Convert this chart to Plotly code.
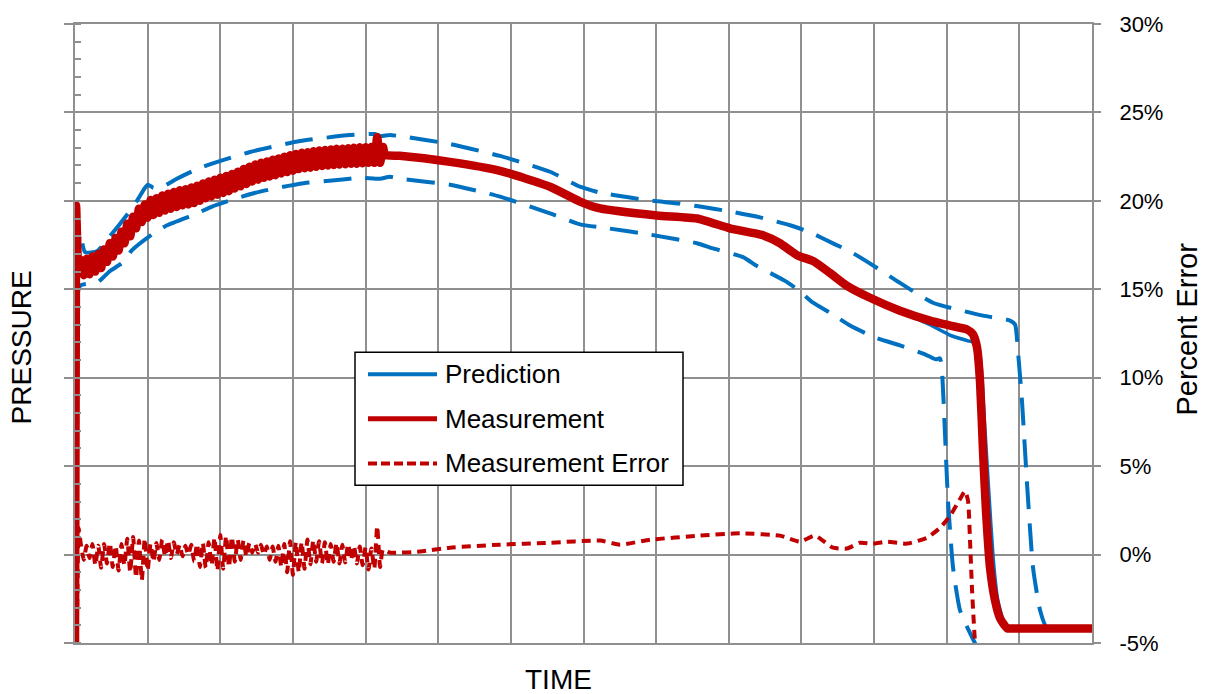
import plotly.graph_objects as go

# ---------------- data ----------------
# time axis: 0..14 (gridline units); pressure axis: 0..7 (unlabelled); error axis: percent
t_osc = [0.08,0.12,0.16,0.20,0.24,0.28,0.32,0.36,0.40,0.44,
         0.48,0.52,0.56,0.60,0.64,0.68,0.72,0.76,0.80,0.84,
         0.88,0.92,0.96,1.00,1.04,1.08,1.12,1.16,1.20,1.24,
         1.28,1.32,1.36,1.40,1.44,1.48,1.52,1.56,1.60,1.64,
         1.68,1.72,1.76,1.80,1.84,1.88,1.92,1.96,2.00,2.04,
         2.08,2.12,2.16,2.20,2.24,2.28,2.32,2.36,2.40,2.44,
         2.48,2.52,2.56,2.60,2.64,2.68,2.72,2.76,2.80,2.84,
         2.88,2.92,2.96,3.00,3.04,3.08,3.12,3.16,3.20,3.24,
         3.28,3.32,3.36,3.40,3.44,3.48,3.52,3.56,3.60,3.64,
         3.68,3.72,3.76,3.80,3.84,3.88,3.92,3.96,4.00,4.04,
         4.08,4.12,4.16,4.20,4.24]

meas_head_t = [0.0, 0.015, 0.04, 0.06]
meas_head_p = [0.0, 4.95, 4.3, 4.2]
meas_osc = [4.33,4.16,4.345,4.17,4.37,4.20,4.40,4.24,4.45,4.31,
            4.52,4.37,4.58,4.44,4.65,4.52,4.74,4.60,4.82,4.69,
            4.91,4.76,4.96,4.81,5.01,4.84,5.03,4.865,5.06,4.89,
            5.08,4.91,5.10,4.93,5.12,4.95,5.13,4.96,5.15,4.975,
            5.17,5.00,5.195,5.03,5.22,5.05,5.24,5.07,5.26,5.09,
            5.28,5.11,5.305,5.14,5.33,5.165,5.36,5.19,5.385,5.22,
            5.41,5.24,5.43,5.26,5.445,5.275,5.465,5.29,5.48,5.31,
            5.50,5.325,5.515,5.34,5.53,5.36,5.545,5.37,5.55,5.375,
            5.56,5.385,5.57,5.395,5.576,5.40,5.58,5.405,5.59,5.41,
            5.59,5.415,5.595,5.42,5.60,5.42,5.605,5.425,5.605,5.43,
            5.61,5.43,5.72,5.43,5.61]
meas_tail_t = [4.268,4.47,5.162,5.851,6.539,6.952,7.228,8.012,8.563,9.017,
               9.471,9.705,9.939,10.160,10.394,10.628,10.944,11.357,11.770,12.046,
               12.280,12.362,12.417,12.459,12.500,12.541,12.596,12.665,12.734,12.830,
               12.95,13.4,13.8,14.0]
meas_tail_p = [5.519,5.51,5.441,5.340,5.160,4.992,4.914,4.835,4.801,4.689,
               4.611,4.521,4.386,4.319,4.184,4.039,3.904,3.758,3.646,3.590,
               3.545,3.489,3.343,2.950,2.165,1.492,0.853,0.482,0.280,0.168,
               0.165,0.165,0.165,0.165]

err_head_t = [0.0, 0.01, 0.03, 0.05]
err_head_e = [-5.5, 14.0, -3.0, 1.5]
err_osc = [0.6,-0.3,0.5,-0.2,0.6,-0.6,0.5,-0.75,0.6,-0.5,
           0.65,-0.7,0.5,-0.9,0.6,-0.6,0.9,-1.0,1.0,-1.3,
           0.8,-1.45,0.9,-0.9,0.6,-0.4,0.65,-0.3,0.85,-0.1,
           0.8,-0.2,0.7,0.0,0.55,-0.1,0.5,0.0,0.55,-0.4,
           0.6,-0.7,0.65,-0.75,0.7,-0.6,0.95,-0.9,1.1,-0.8,
           1.05,-0.7,1.0,-0.4,0.85,-0.3,0.8,-0.1,0.65,0.1,
           0.6,0.1,0.55,0.0,0.45,-0.3,0.45,-0.4,0.5,-0.7,
           0.6,-1.0,0.75,-1.15,0.7,-1.0,0.7,-0.8,0.85,-0.55,
           0.8,-0.4,0.75,-0.5,0.7,-0.55,0.6,-0.4,0.65,-0.5,
           0.55,-0.45,0.6,-0.3,0.5,-0.5,0.45,-0.6,0.4,-0.85,
           0.35,-0.8,1.6,-0.7,0.3]
err_tail_t = [4.336,4.75,5.162,5.851,6.539,7.228,7.503,7.916,8.604,9.155,
              9.705,9.981,10.187,10.435,10.628,10.807,10.986,11.178,11.454,11.729,
              11.908,12.046,12.183,12.252,12.294,12.321,12.349,12.390,12.42]
err_tail_e = [0.11,0.17,0.39,0.56,0.67,0.79,0.56,0.84,1.07,1.2,
              1.07,0.73,1.07,0.39,0.34,0.67,0.62,0.73,0.62,0.95,
              1.51,2.19,3.14,3.59,3.03,0.79,-2.02,-4.99,-6.0]

pred_t = [0.0,0.02,0.06,0.2,0.34,0.48,0.62,0.76,0.9,1.0,
          1.1,1.4,1.86,2.5,3.1,3.79,4.27,5.16,5.85,6.54,
          6.95,7.23,8.01,8.56,9.02,9.47,9.71,9.94,10.16,10.39,
          10.63,10.94,11.36,11.77,12.05,12.28,12.40,12.46,12.52,12.58,
          12.64,12.70,12.78,12.87,13.0,13.4,13.8,14.0]
pred_p = [0.0,4.6,4.3,4.27,4.32,4.43,4.55,4.70,4.86,4.96,
          4.95,5.02,5.14,5.33,5.45,5.51,5.52,5.44,5.34,5.16,
          4.99,4.91,4.83,4.80,4.69,4.61,4.52,4.39,4.32,4.18,
          4.04,3.90,3.75,3.60,3.48,3.42,3.39,3.25,2.5,1.7,
          0.95,0.5,0.25,0.168,0.165,0.165,0.165,0.165]

upper_t = [0.0,0.069,0.138,0.303,0.482,0.730,0.854,0.964,1.005,1.074,
           1.143,1.239,1.377,1.721,2.409,3.097,3.786,4.130,4.199,4.336,
           4.474,5.162,5.851,6.539,6.952,7.228,7.641,7.916,8.329,8.604,
           9.017,9.430,9.843,10.118,10.463,10.669,11.041,11.357,11.811,12.500,
           12.872,12.941,12.982,13.037,13.106,13.188,13.285,13.381,13.6,13.8,14.0]
upper_p = [0.0,4.633,4.420,4.431,4.600,4.858,5.003,5.149,5.183,5.149,
           5.138,5.171,5.239,5.374,5.553,5.676,5.744,5.755,5.732,5.744,
           5.732,5.643,5.508,5.329,5.160,5.093,5.037,5.003,4.969,4.936,
           4.880,4.813,4.724,4.645,4.508,4.429,4.241,4.072,3.848,3.702,
           3.646,3.601,3.287,2.726,1.795,0.853,0.370,0.168,0.165,0.165,0.165]

lower_t = [0.0,0.069,0.303,0.482,0.647,0.785,1.060,1.267,1.680,1.886,
           2.299,2.547,3.097,3.648,3.923,4.199,4.336,4.474,5.162,5.851,
           6.539,6.952,7.338,7.889,8.563,8.769,9.196,9.389,9.774,9.953,
           10.160,10.394,10.669,11.013,11.357,11.701,11.853,11.908,11.936,11.977,
           12.018,12.087,12.183,12.321,12.45]
lower_p = [0.0,4.039,4.072,4.207,4.297,4.442,4.62,4.724,4.858,4.936,
           5.048,5.104,5.194,5.239,5.261,5.250,5.273,5.250,5.183,5.048,
           4.858,4.734,4.689,4.622,4.521,4.465,4.364,4.263,4.095,3.994,
           3.848,3.736,3.590,3.455,3.366,3.265,3.208,3.219,3.063,2.356,
           1.604,0.853,0.370,0.112,-0.1]

err_tick_vals = [-5, 0, 5, 10, 15, 20, 25, 30]
err_tick_text = ["-5%", "0%", "5%", "10%", "15%", "20%", "25%", "30%"]
legend_names = ["Prediction", "Measurement", "Measurement Error"]

# ---------------- styling ----------------
BLUE = "#0070C0"
RED = "#C00000"
GRID = "#8f8f8f"
FONT = "Liberation Sans, Arial, sans-serif"

meas_t = meas_head_t + t_osc + meas_tail_t
meas_p = meas_head_p + meas_osc + meas_tail_p
err_t = err_head_t + t_osc + err_tail_t
err_e = err_head_e + err_osc + err_tail_e

fig = go.Figure()
fig.add_trace(go.Scatter(x=pred_t, y=pred_p, mode="lines", name=legend_names[0],
                         line=dict(color=BLUE, width=3.5, shape="spline", smoothing=0.5),
                         yaxis="y"))
fig.add_trace(go.Scatter(x=upper_t, y=upper_p, mode="lines", name="Upper",
                         line=dict(color=BLUE, width=4, dash="28px,14px",
                                   shape="spline", smoothing=0.5), yaxis="y"))
fig.add_trace(go.Scatter(x=lower_t, y=lower_p, mode="lines", name="Lower",
                         line=dict(color=BLUE, width=4, dash="28px,14px",
                                   shape="spline", smoothing=0.5), yaxis="y"))
fig.add_trace(go.Scatter(x=meas_t, y=meas_p, mode="lines", name=legend_names[1],
                         line=dict(color=RED, width=8.5, shape="spline", smoothing=0.5),
                         yaxis="y"))
fig.add_trace(go.Scatter(x=err_t, y=err_e, mode="lines", name=legend_names[2],
                         line=dict(color=RED, width=4, dash="9px,6px",
                                   shape="spline", smoothing=0.5), yaxis="y2"))

W, H = 1209, 694
ML, MR, MT, MB = 75, 117, 19, 51
PW, PH = W - ML - MR, H - MT - MB


def px(x):
    return (x - ML) / PW


def py(y):
    return (H - MB - y) / PH


# custom legend
shapes = [dict(type="rect", xref="paper", yref="paper",
               x0=px(355), x1=px(683), y0=py(484), y1=py(350),
               line=dict(color="black", width=1.5), fillcolor="white", layer="above")]
rows = [372, 417, 462]
styles = [dict(color=BLUE, width=4), dict(color=RED, width=5),
          dict(color=RED, width=4, dash="9px,4px")]
annotations = []
for r, st, name in zip(rows, styles, legend_names):
    shapes.append(dict(type="line", xref="paper", yref="paper",
                       x0=px(368), x1=px(437), y0=py(r), y1=py(r), line=st, layer="above"))
    annotations.append(dict(xref="paper", yref="paper", x=px(443), y=py(r),
                            text=name, showarrow=False, xanchor="left", yanchor="middle",
                            font=dict(family=FONT, size=26, color="black")))

annotations += [
    dict(xref="paper", yref="paper", x=px(21), y=py(345), text="PRESSURE", textangle=-90,
         showarrow=False, xanchor="center", yanchor="middle",
         font=dict(family=FONT, size=28, color="black")),
    dict(xref="paper", yref="paper", x=px(558), y=py(680), text="TIME",
         showarrow=False, xanchor="center", yanchor="middle",
         font=dict(family=FONT, size=28, color="black")),
    dict(xref="paper", yref="paper", x=px(1187), y=py(327), text="Percent Error", textangle=-90,
         showarrow=False, xanchor="center", yanchor="middle",
         font=dict(family=FONT, size=29, color="black")),
]

fig.update_layout(
    width=W, height=H,
    margin=dict(l=ML, r=MR, t=MT, b=MB, pad=0),
    paper_bgcolor="white", plot_bgcolor="white",
    showlegend=False,
    shapes=shapes, annotations=annotations,
    xaxis=dict(range=[0, 14], dtick=1, tick0=0, showgrid=True, gridcolor=GRID, gridwidth=2,
               showticklabels=False, ticks="", zeroline=False,
               showline=True, linecolor=GRID, linewidth=2, mirror=True),
    yaxis=dict(range=[0, 7], dtick=1, tick0=0, showgrid=True, gridcolor=GRID, gridwidth=2,
               showticklabels=False, ticks="outside", ticklen=9, tickwidth=2, tickcolor=GRID,
               zeroline=False, showline=True, linecolor=GRID, linewidth=2, mirror=True,
               minor=dict(dtick=0.2, tick0=0, ticks="inside", ticklen=6, tickwidth=1.5,
                          tickcolor=GRID, showgrid=False)),
    yaxis2=dict(range=[-5, 30], overlaying="y", side="right", showgrid=False, zeroline=False,
                tickvals=err_tick_vals, ticktext=err_tick_text, ticks="outside", ticklen=8,
                tickwidth=2, tickcolor=GRID, showline=False, ticklabelstandoff=14,
                tickfont=dict(family=FONT, size=22, color="black")),
)

fig.write_html("out.html")
